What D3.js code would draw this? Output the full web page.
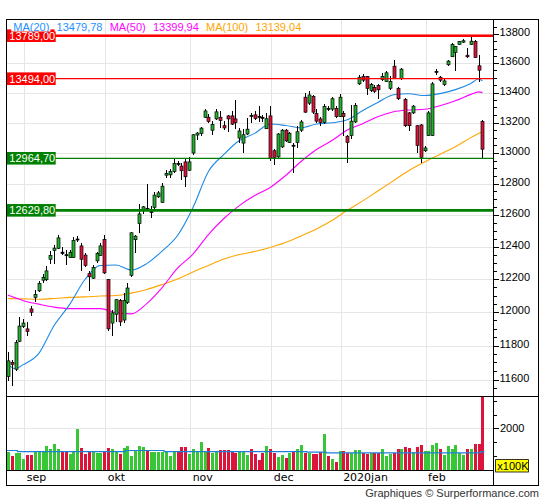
<!DOCTYPE html>
<html><head><meta charset="utf-8">
<script src="https://cdn.jsdelivr.net/npm/d3@7"></script>
<style>body{margin:0;background:#fff}svg{display:block}</style>
</head><body><svg id="c" width="545" height="500"></svg>
<script>
// ---------------- DATA ----------------
const openP = [11617,11699,11660,11825,11914,11899,12019,12089,12129,12194,
12197,12323,12378,12391,12367,12351,12334,12334,12444,12406,
12349,12234,12206,12313,12347,12446,12198,11934,11987,12071,
11952,12059,12224,12445,12546,12627,12641,12617,12649,12716,
12681,12855,12857,12879,12931,12914,12941,12887,12999,13117,
13127,13235,13235,13149,13224,13235,13179,13244,13244,13224,
13097,13064,13124,13247,13251,13241,13234,13159,13244,13014,
12974,13039,13149,13069,13050,13069,13149,13369,13329,13374,
13259,13224,13201,13294,13289,13294,13239,13261,13109,13114,
13204,13459,13509,13509,13414,13434,13449,13489,13474,13429,
13579,13429,13494,13354,13264,13264,13179,13184,13014,13114,
13114,13541,13504,13454,13589,13644,13674,13729,13744,13654,
13729,13749,13582,13207];
const highP = [11763,11715,11834,11972,11959,11939,12034,12134,12189,12234,
12279,12374,12414,12477,12402,12379,12379,12464,12469,12426,
12361,12251,12289,12371,12426,12473,12204,12011,12081,12079,
12114,12174,12495,12475,12667,12659,12800,12659,12746,12754,
12804,12889,12894,12966,12944,12934,12966,12974,13124,13139,
13169,13289,13259,13209,13289,13279,13209,13251,13279,13351,
13164,13154,13229,13264,13274,13311,13251,13264,13309,13024,
13129,13154,13159,13139,13064,13179,13214,13399,13414,13384,
13289,13239,13324,13309,13369,13309,13389,13274,13119,13319,
13329,13519,13524,13514,13464,13449,13459,13534,13544,13509,
13620,13439,13569,13364,13269,13319,13184,13189,13044,13274,
13469,13562,13514,13494,13624,13739,13719,13754,13766,13701,
13789,13759,13655,13219];
const lowP = [11594,11564,11649,11819,11904,11854,11974,12059,12124,12174,
12189,12294,12294,12384,12347,12289,12329,12329,12429,12251,
12273,12125,12199,12301,12343,12234,11889,11854,11941,11919,
11934,12051,12213,12364,12488,12609,12627,12579,12639,12709,
12679,12839,12839,12869,12914,12824,12779,12884,12987,13084,
13114,13229,13199,13119,13214,13164,13149,13139,13184,13159,
13064,12999,13119,13199,13219,13204,13204,13154,12949,12919,
12959,13029,13069,13064,12869,13029,13139,13264,13319,13259,
13199,13179,13189,13274,13279,13229,13234,13109,12934,13089,
13199,13449,13469,13384,13404,13399,13359,13479,13469,13419,
13489,13349,13484,13169,13144,13259,12999,12934,13004,13109,
13109,13519,13474,13444,13579,13639,13549,13724,13739,13637,
13724,13634,13471,12959];
const closeP = [11709,11689,11817,11916,11934,11884,11999,12106,12174,12211,
12251,12347,12392,12456,12359,12347,12366,12439,12449,12323,
12285,12215,12272,12359,12406,12239,11899,11995,12075,11941,
12071,12146,12488,12467,12607,12652,12637,12622,12727,12741,
12784,12867,12879,12930,12927,12884,12845,12941,13119,13130,
13163,13277,13207,13186,13271,13214,13164,13224,13189,13201,
13144,13119,13156,13241,13227,13237,13229,13225,12965,12969,
13124,13149,13079,13129,13044,13139,13204,13269,13384,13269,
13209,13201,13307,13289,13359,13239,13369,13239,13069,13209,
13314,13504,13484,13429,13454,13409,13419,13509,13534,13474,
13494,13359,13559,13179,13179,13309,13049,12971,13032,13264,
13459,13544,13484,13479,13614,13729,13714,13749,13754,13644,
13751,13639,13552,13024];
const volume = [1141,993,1104,1104,882,1043,1043,1203,1178,1141,
1363,1252,1437,1252,1153,1153,1080,1166,1992,1289,
1080,1141,1153,1104,1104,1153,1289,1240,1153,1080,
1289,1363,993,1203,1363,1326,1227,1153,1153,1141,
1141,1178,993,1141,1153,1326,1326,1080,1252,1141,
1511,1153,1289,1117,1178,1227,1215,1215,1153,1104,
1203,1153,1030,1252,1080,845,1104,1363,1240,1104,
956,1030,932,1129,1153,1252,1400,1129,1117,1080,
1067,1153,1807,993,882,771,1178,1178,1117,1117,
1215,1215,1117,1080,1104,1104,1104,1252,993,1080,
1104,1252,1252,1326,1289,1141,1326,1400,1178,1178,
1412,1474,1252,1043,1363,1252,1400,1117,1043,1252,
1252,1437,1437,3168];
const maIndex = [0,2,4,8,12,16,20,24,28,32,36,40,44,48,52,56,60,64,68,72,76,80,84,88,92,96,100,104,108,112,116,120,122,123];
const ma20 = [11689,11663,11687,11752,11919,12045,12198,12284,12287,12256,12296,12374,12471,12648,12879,12990,13081,13128,13190,13180,13165,13190,13198,13218,13280,13335,13385,13392,13380,13393,13420,13462,13492,13480];
const ma50 = [12103,12086,12069,12048,12030,12021,12021,12021,11997,11989,12051,12149,12268,12355,12477,12578,12660,12724,12776,12853,12944,13022,13081,13150,13192,13240,13272,13283,13288,13312,13345,13388,13405,13400];
const ma100 = [12082,12081,12080,12078,12082,12089,12092,12097,12100,12115,12137,12167,12201,12244,12284,12324,12352,12371,12396,12427,12468,12512,12565,12630,12690,12755,12820,12885,12940,12990,13040,13100,13128,13139];
const maNames = ["MA(20)","MA(50)","MA(100)"];
const maLegendValues = [13479.78,13399.94,13139.04];
const volAvgIndex = [0,3,31,41,78,83,123];
const volAvg = [1203,1166,1203,1166,1141,1117,1166];
const monthLabels = ["sep","okt","nov","dec","2020jan","feb"];
const monthIndex = [4,25,47,68,86,108];
const priceTicks = [11600,11800,12000,12200,12400,12600,12800,13000,13200,13400,13600,13800];
const volTicks = [2000];
const levelValues = [13789.00,13494.00,12964.70,12629.80];

// ---------------- LAYOUT / STYLE ----------------
const L=7, R=493, FR=538.7, T=19, PB=396, VB=470, B=485.5;
const levelStyle = [{c:"#ff0000",w:2.5},{c:"#ff0000",w:1.3},{c:"#008000",w:1.3},{c:"#008000",w:2.6}];
const maColors = ["#1e88e5","#ff00ff","#ffa500"];
const legendColors = ["#1e90ff","#ff00ff","#ffa500"];
const GREEN="#22b02e", RED="#dc143c", VGREEN="#36c636", VRED="#dc143c";
const AX = "Liberation Sans, Arial, sans-serif";

const svg = d3.select("#c");
const x = d3.scaleLinear().domain([0,123]).range([7.8,482.4]);
const y = d3.scaleLog().domain([11600,13800]).range([379.5,34.1]);
const yv = d3.scaleLinear().domain([500,3168]).range([VB,PB]);
const fmt = v => v.toFixed(2).replace(".",",");
const px = v => Math.round(v)+0.5;

svg.append("rect").attr("width",545).attr("height",500).attr("fill","#fff");

const defs = svg.append("defs");
defs.append("clipPath").attr("id","pc").append("rect").attr("x",L).attr("y",T).attr("width",R-L).attr("height",PB-T);
defs.append("clipPath").attr("id","vc").append("rect").attr("x",L).attr("y",PB).attr("width",R-L).attr("height",VB-PB);

// grid
const grid = svg.append("g").attr("stroke","#e6e6e6").attr("stroke-width",1).attr("shape-rendering","crispEdges");
grid.selectAll(".hg").data(priceTicks).join("line")
  .attr("x1",L).attr("x2",R).attr("y1",d=>px(y(d))).attr("y2",d=>px(y(d)));
grid.selectAll(".vg").data(monthIndex).join("line")
  .attr("x1",d=>px(x(d)+1)).attr("x2",d=>px(x(d)+1)).attr("y1",T).attr("y2",VB);
grid.selectAll(".vh").data(volTicks).join("line")
  .attr("x1",L).attr("x2",R).attr("y1",d=>px(yv(d))).attr("y2",d=>px(yv(d)));

// MA lines
const pg = svg.append("g").attr("clip-path","url(#pc)");
const line = d3.line().x(d=>x(d[0])).y(d=>y(d[1])).curve(d3.curveMonotoneX);
[ma100,ma50,ma20].forEach((arr,k)=>{
  const ci = 2-k;
  pg.append("path").datum(maIndex.map((ix,j)=>[ix,arr[j]]))
    .attr("d",line).attr("fill","none").attr("stroke",maColors[ci]).attr("stroke-width",1.1);
});

// candles
const idx = d3.range(openP.length);
const cg = pg.append("g");
cg.selectAll(".wick").data(idx).join("line")
  .attr("x1",i=>px(x(i))).attr("x2",i=>px(x(i)))
  .attr("y1",i=>y(highP[i])).attr("y2",i=>y(lowP[i]))
  .attr("stroke","#000").attr("stroke-width",1).attr("shape-rendering","crispEdges");
cg.selectAll(".body").data(idx).join("rect")
  .attr("x",i=>px(x(i))-1.5).attr("width",3)
  .attr("y",i=>y(Math.max(openP[i],closeP[i])))
  .attr("height",i=>Math.max(1,y(Math.min(openP[i],closeP[i]))-y(Math.max(openP[i],closeP[i]))))
  .attr("fill",i=>Math.abs(closeP[i]-openP[i])<10?"#000":(closeP[i]>openP[i]?GREEN:RED))
  .attr("stroke","#000").attr("stroke-width",0.7);

// volume
const vg = svg.append("g").attr("clip-path","url(#vc)");
vg.selectAll(".vb").data(idx).join("rect")
  .attr("x",i=>Math.round(x(i))-1).attr("width",3)
  .attr("y",i=>yv(volume[i])).attr("height",i=>VB-yv(volume[i]))
  .attr("fill",i=>closeP[i]>=openP[i]?VGREEN:VRED).attr("shape-rendering","crispEdges");
const vpts = volAvgIndex.map((k,j)=>[x(k)-1.9,volAvg[j]]);
vpts.push([x(123)+2,volAvg[volAvg.length-1]]);
vg.append("path").datum(vpts)
  .attr("d",d3.line().x(d=>d[0]).y(d=>yv(d[1])).curve(d3.curveStepAfter))
  .attr("fill","none").attr("stroke","#1e7fd8").attr("stroke-width",1.2);

// level lines
const lg = svg.append("g");
levelValues.forEach((v,k)=>{
  const yy = y(v);
  lg.append("line").attr("x1",L).attr("x2",R).attr("y1",yy).attr("y2",yy)
    .attr("stroke",levelStyle[k].c).attr("stroke-width",levelStyle[k].w);
  lg.append("rect").attr("x",L).attr("y",yy-6.3).attr("width",48.7).attr("height",12.6)
    .attr("fill",levelStyle[k].c);
  lg.append("text").attr("x",L+2.3).attr("y",yy+4).attr("fill","#fff")
    .attr("font-family",AX).attr("font-size",11).text(fmt(v));
});

// frame and axes
const fg = svg.append("g").attr("stroke","#000").attr("stroke-width",1).attr("shape-rendering","crispEdges").attr("fill","none");
fg.append("rect").attr("x",6.5).attr("y",19.5).attr("width",FR-6.5).attr("height",B-19.5);
fg.append("line").attr("x1",R+0.5).attr("x2",R+0.5).attr("y1",T).attr("y2",B);
fg.append("line").attr("x1",L).attr("x2",FR).attr("y1",PB+0.5).attr("y2",PB+0.5);
fg.append("line").attr("x1",L).attr("x2",R).attr("y1",VB+0.5).attr("y2",VB+0.5);

// price ticks
const minor = d3.range(11550,13901,50).filter(v=>priceTicks.indexOf(v)<0 && y(v)>T+2 && y(v)<PB-2);
fg.selectAll(".mt").data(minor).join("line")
  .attr("x1",R).attr("x2",R+4).attr("y1",d=>px(y(d))).attr("y2",d=>px(y(d)));
fg.selectAll(".Mt").data(priceTicks).join("line")
  .attr("x1",R).attr("x2",R+6).attr("y1",d=>px(y(d))).attr("y2",d=>px(y(d)));
svg.append("g").selectAll("text").data(priceTicks).join("text")
  .attr("x",R+6.5).attr("y",d=>y(d)+2.2).attr("font-family",AX).attr("font-size",11).attr("fill","#000")
  .text(d=>d);

// volume ticks
const vminor = [1000,1500,2500,3000];
fg.selectAll(".vmt").data(vminor).join("line")
  .attr("x1",R).attr("x2",R+4).attr("y1",d=>px(yv(d))).attr("y2",d=>px(yv(d)));
fg.selectAll(".vMt").data(volTicks).join("line")
  .attr("x1",R).attr("x2",R+6).attr("y1",d=>px(yv(d))).attr("y2",d=>px(yv(d)));
svg.append("g").selectAll("text").data(volTicks).join("text")
  .attr("x",R+7).attr("y",d=>yv(d)+3.3).attr("font-family",AX).attr("font-size",11).attr("fill","#000")
  .text(d=>d);
svg.append("rect").attr("x",495.6).attr("y",459.6).attr("width",33).attr("height",12.4)
  .attr("fill","#ffff00").attr("stroke","#000").attr("stroke-width",0.8);
svg.append("text").attr("x",497.3).attr("y",469.9).attr("font-family",AX).attr("font-size",11).text("x100K");

// month labels
svg.append("g").selectAll("text").data(monthIndex).join("text")
  .attr("x",d=>x(d)+3.5).attr("y",480.5).attr("font-family","DejaVu Sans, Verdana, sans-serif")
  .attr("font-size",11).attr("fill","#000").text((d,j)=>monthLabels[j]);

// legend
const leg = svg.append("g");
let lx = 13.3;
maNames.forEach((n,k)=>{
  [n, fmt(maLegendValues[k])].forEach(s=>{
    const bg = leg.append("rect").attr("fill","#fff");
    const t = leg.append("text").attr("x",lx).attr("y",30.6).attr("font-family",AX).attr("font-size",11)
      .attr("fill",legendColors[k]).text(s);
    const w = t.node().getComputedTextLength();
    bg.attr("x",lx-2).attr("y",20).attr("width",w+3).attr("height",11.5);
    lx += w + 7.2;
  });
});

// footer
svg.append("text").attr("x",539).attr("y",497).attr("text-anchor","end")
  .attr("font-family",AX).attr("font-size",11).attr("fill","#333").text("Graphiques © Surperformance.com");
</script></body></html>
